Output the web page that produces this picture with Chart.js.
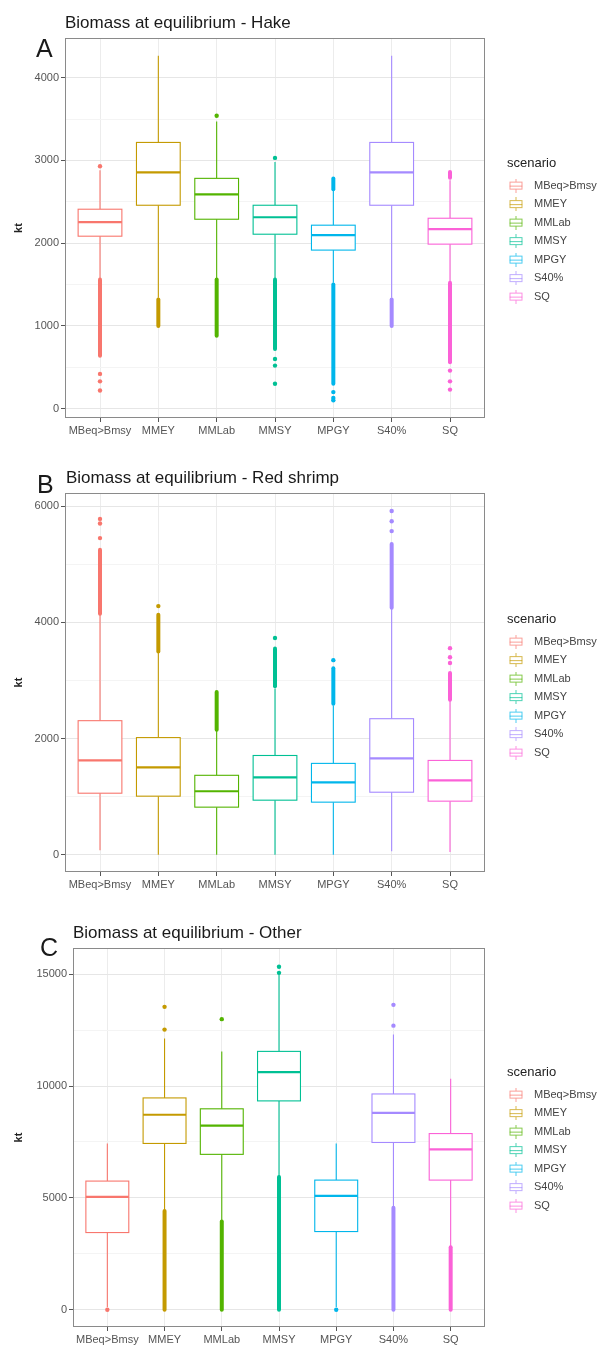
<!DOCTYPE html>
<html>
<head>
<meta charset="utf-8">
<script src="https://cdn.jsdelivr.net/npm/chart.js@4.4.0/dist/chart.umd.min.js"></script>
<style>
  body { margin: 0; background: #fff; }
  #wrap { position: relative; width: 600px; height: 1345px; }
  canvas { position: absolute; left: 0; }
</style>
</head>
<body>
<div id="wrap">
  <canvas id="hake" width="600" height="445" style="top:0"></canvas>
  <canvas id="shrimp" width="600" height="450" style="top:445px"></canvas>
  <canvas id="other" width="600" height="450" style="top:895px"></canvas>
</div>
<script>
// categories and ggplot hue colours
const scenarios = ['MBeq>Bmsy', 'MMEY', 'MMLab', 'MMSY', 'MPGY', 'S40%', 'SQ'];
const colors = ['#F8766D', '#C49A00', '#53B400', '#00C094', '#00B6EB', '#A58AFF', '#FB61D7'];

// A - Hake (kt)
const hakeLow    = [1580, 1340, 1570, 1580, 1520, 1340, 1530];
const hakeQ1     = [2084, 2458, 2289, 2108, 1916, 2458, 1988];
const hakeMedian = [2253, 2855, 2590, 2313, 2096, 2855, 2169];
const hakeQ3     = [2410, 3217, 2783, 2458, 2217, 3217, 2301];
const hakeHigh   = [2880, 4265, 3470, 2980, 2640, 4265, 2760];
const hakeOutliers = [[420, 330, 220, 2930], [], [3540], [600, 520, 300, 3030], [200, 130, 100], [], [460, 330, 230]];
const hakeDense  = [[[640, 1560]], [[1000, 1320]], [[880, 1560]], [[720, 1560]], [[300, 1500], [2650, 2780]], [[1000, 1320]], [[560, 1520], [2790, 2860]]];
const hakeMajor  = [0, 1000, 2000, 3000, 4000];
const hakeMinor  = [500, 1500, 2500, 3500];

// B - Red shrimp (kt)
const shrimpLow    = [80, 0, 0, 0, 0, 60, 50];
const shrimpQ1     = [1060, 1009, 820, 940, 906, 1077, 923];
const shrimpMedian = [1624, 1504, 1094, 1333, 1248, 1658, 1282];
const shrimpQ3     = [2308, 2017, 1368, 1709, 1573, 2342, 1624];
const shrimpHigh   = [4150, 3500, 2150, 2860, 2570, 4230, 2660];
const shrimpOutliers = [[5450, 5700, 5780], [4280], [], [3730], [3350], [5570, 5740, 5915], [3300, 3400, 3556]];
const shrimpDense  = [[[4150, 5250]], [[3500, 4130]], [[2150, 2800]], [[2900, 3550]], [[2600, 3210]], [[4250, 5350]], [[2670, 3130]]];
const shrimpMajor  = [0, 2000, 4000, 6000];
const shrimpMinor  = [1000, 3000, 5000];

// C - Other (kt)
const otherLow    = [120, 4420, 3950, 5930, 120, 4560, 2790];
const otherQ1     = [3451, 7434, 6947, 9336, 3496, 7478, 5796];
const otherMedian = [5044, 8717, 8230, 10619, 5088, 8805, 7168];
const otherQ3     = [5752, 9469, 8982, 11549, 5796, 9646, 7876];
const otherHigh   = [7434, 12124, 11549, 15050, 7434, 12301, 10330];
const otherOutliers = [[0], [12522, 13540], [12990], [15060, 15330], [0], [12699, 13628], []];
const otherDense  = [[], [[0, 4420]], [[0, 3950]], [[0, 5930]], [], [[0, 4560]], [[0, 2790]]];
const otherMajor  = [0, 5000, 10000, 15000];
const otherMinor  = [2500, 7500, 12500];

Chart.defaults.font.family = '"Liberation Sans", Arial, sans-serif';

// small boxplot key used in the legend
function legendGlyph(color) {
  const c = document.createElement('canvas');
  c.width = 26; c.height = 14;
  const g = c.getContext('2d');
  g.strokeStyle = color;
  g.globalAlpha = 0.7;
  g.lineWidth = 1;
  g.beginPath();
  g.moveTo(7.5, 0); g.lineTo(7.5, 3);
  g.moveTo(7.5, 11); g.lineTo(7.5, 14);
  g.moveTo(1, 7.5); g.lineTo(14, 7.5);
  g.stroke();
  g.strokeRect(1.5, 3.5, 12, 7);
  return c;
}
const glyphs = colors.map(legendGlyph);

function boxPlugin(p) {
  return {
    id: 'boxes_' + p.id,
    beforeLayout(chart) {
      const lg = chart.legend;
      if (lg && !lg._fixed) {
        const fit = lg.fit;
        lg.fit = function () { fit.call(this); this.width = 115; };
        lg._fixed = true;
      }
    },
    afterLayout(chart) {
      const lg = chart.legend;
      const dx = chart.chartArea.right + 22 - lg.left;
      lg.left += dx; lg.right += dx;
      const dy = chart.chartArea.top + p.legendShift - lg.top;
      lg.top += dy; lg.bottom += dy;
    },
    beforeDatasetsDraw(chart) {
      const ctx = chart.ctx, xs = chart.scales.x, ys = chart.scales.y;
      ctx.save();
      for (let i = 0; i < scenarios.length; i++) {
        const x = xs.getPixelForValue(i + 1);
        const half = xs.getPixelForValue(i + 1.375) - x;
        ctx.strokeStyle = colors[i];
        // whiskers
        ctx.lineWidth = 1.1;
        ctx.beginPath();
        ctx.moveTo(x, ys.getPixelForValue(p.q3[i])); ctx.lineTo(x, ys.getPixelForValue(p.high[i]));
        ctx.moveTo(x, ys.getPixelForValue(p.q1[i])); ctx.lineTo(x, ys.getPixelForValue(p.low[i]));
        ctx.stroke();
        // runs of overlapping outliers
        ctx.lineWidth = 4;
        ctx.lineCap = 'round';
        p.dense[i].forEach(r => {
          ctx.beginPath();
          ctx.moveTo(x, ys.getPixelForValue(r[0])); ctx.lineTo(x, ys.getPixelForValue(r[1]));
          ctx.stroke();
        });
        ctx.lineCap = 'butt';
        // box
        const top = ys.getPixelForValue(p.q3[i]), bot = ys.getPixelForValue(p.q1[i]);
        ctx.fillStyle = '#fff';
        ctx.fillRect(x - half, top, half * 2, bot - top);
        ctx.lineWidth = 1.1;
        ctx.strokeRect(x - half, top, half * 2, bot - top);
        // median
        ctx.lineWidth = 2.2;
        const m = ys.getPixelForValue(p.median[i]);
        ctx.beginPath(); ctx.moveTo(x - half, m); ctx.lineTo(x + half, m); ctx.stroke();
      }
      ctx.restore();
    },
    afterDraw(chart) {
      const ctx = chart.ctx, a = chart.chartArea;
      ctx.save();
      ctx.strokeStyle = '#8a8a8a';
      ctx.lineWidth = 1;
      ctx.strokeRect(a.left + 0.5, a.top + 0.5, a.right - a.left - 1, a.bottom - a.top - 1);
      ctx.fillStyle = '#1a1a1a';
      ctx.textBaseline = 'alphabetic';
      ctx.textAlign = 'left';
      ctx.font = '17px "Liberation Sans", Arial, sans-serif';
      ctx.fillText(p.title, p.titleX, p.titleY);
      ctx.font = '25px "Liberation Sans", Arial, sans-serif';
      ctx.fillText(p.letter, p.letterX, p.letterY);
      ctx.restore();
    }
  };
}

function makeChart(p) {
  const ticks = p.major.concat(p.minor).sort((a, b) => a - b);
  const datasets = scenarios.map((s, i) => ({
    label: s,
    data: p.outliers[i].map(v => ({ x: i + 1, y: v })),
    backgroundColor: colors[i],
    borderWidth: 0,
    pointRadius: 2.2
  }));
  new Chart(document.getElementById(p.id), {
    type: 'scatter',
    data: { datasets },
    options: {
      responsive: false,
      animation: false,
      layout: { padding: { top: p.areaTop, left: 0, right: 0, bottom: 0 } },
      scales: {
        x: {
          type: 'linear', min: 0.4, max: 7.6,
          afterBuildTicks: s => { s.ticks = scenarios.map((_, i) => ({ value: i + 1 })); },
          afterFit: s => { s.height = p.xHeight; },
          ticks: { callback: v => scenarios[v - 1], autoSkip: false, maxRotation: 0, padding: 2, color: '#555', font: { size: 11 } },
          grid: { color: '#ECECEC', tickColor: '#555', tickLength: 4 },
          border: { display: false }
        },
        y: {
          min: p.yMin, max: p.yMax,
          afterBuildTicks: s => { s.ticks = ticks.map(v => ({ value: v })); },
          afterFit: s => { s.width = p.yWidth; },
          ticks: { callback: v => p.major.includes(v) ? String(v) : '', autoSkip: false, padding: 2, color: '#555', font: { size: 11 } },
          grid: {
            color: c => p.major.includes(c.tick.value) ? '#E6E6E6' : '#F4F4F4',
            tickColor: c => p.major.includes(c.tick.value) ? '#555' : 'rgba(0,0,0,0)',
            tickLength: 4
          },
          border: { display: false },
          title: { display: true, text: 'kt', color: '#222', font: { size: 11, weight: 'bold' }, padding: { top: 12, bottom: 0 } }
        }
      },
      plugins: {
        tooltip: { enabled: false },
        legend: {
          position: 'right',
          align: 'start',
          title: { display: true, position: 'start', text: 'scenario', color: '#222', font: { size: 13 }, padding: { top: 0, bottom: 0 } },
          labels: {
            usePointStyle: true, pointStyleWidth: 14, padding: 7.5, color: '#444', font: { size: 11 },
            generateLabels: chart => chart.data.datasets.map((d, i) => ({
              text: d.label, pointStyle: glyphs[i], fillStyle: 'rgba(0,0,0,0)', strokeStyle: 'rgba(0,0,0,0)',
              lineWidth: 0, hidden: false, datasetIndex: i, fontColor: '#444'
            }))
          }
        }
      }
    },
    plugins: [boxPlugin(p)]
  });
}

makeChart({
  id: 'hake', title: 'Biomass at equilibrium - Hake', letter: 'A',
  titleX: 65, titleY: 28, letterX: 36, letterY: 57,
  areaTop: 38, xHeight: 27, yWidth: 65, yMin: -113, yMax: 4479, legendShift: 119,
  low: hakeLow, q1: hakeQ1, median: hakeMedian, q3: hakeQ3, high: hakeHigh,
  outliers: hakeOutliers, dense: hakeDense, major: hakeMajor, minor: hakeMinor
});
makeChart({
  id: 'shrimp', title: 'Biomass at equilibrium - Red shrimp', letter: 'B',
  titleX: 66, titleY: 38, letterX: 37, letterY: 48,
  areaTop: 48, xHeight: 23, yWidth: 65, yMin: -296, yMax: 6226, legendShift: 120,
  low: shrimpLow, q1: shrimpQ1, median: shrimpMedian, q3: shrimpQ3, high: shrimpHigh,
  outliers: shrimpOutliers, dense: shrimpDense, major: shrimpMajor, minor: shrimpMinor
});
makeChart({
  id: 'other', title: 'Biomass at equilibrium - Other', letter: 'C',
  titleX: 73, titleY: 43, letterX: 40, letterY: 61,
  areaTop: 53, xHeight: 18, yWidth: 73, yMin: -770, yMax: 16170, legendShift: 118,
  low: otherLow, q1: otherQ1, median: otherMedian, q3: otherQ3, high: otherHigh,
  outliers: otherOutliers, dense: otherDense, major: otherMajor, minor: otherMinor
});
</script>
</body>
</html>
